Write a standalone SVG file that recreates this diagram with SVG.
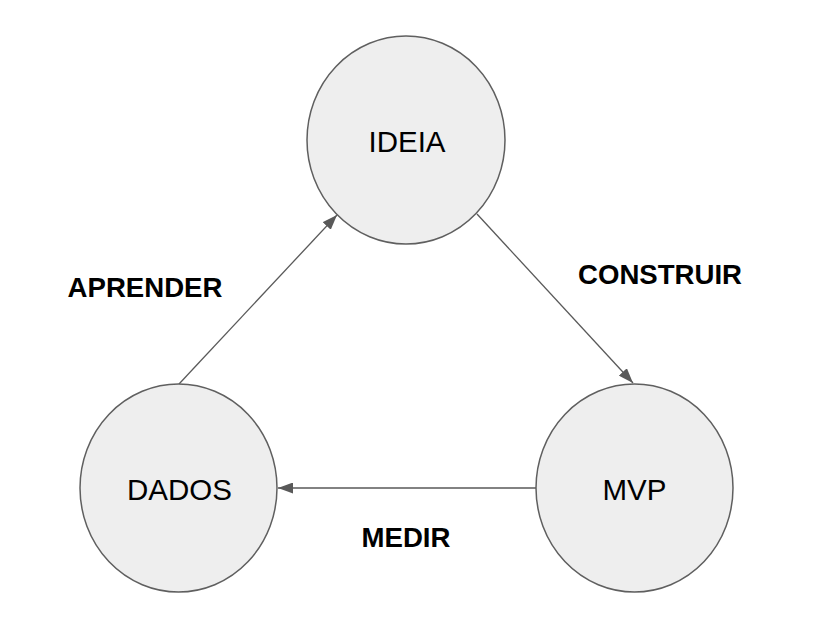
<svg xmlns="http://www.w3.org/2000/svg" width="816" height="628" viewBox="0 0 816 628">
<defs>
<style>
.node{fill:#eeeeee;stroke:#5f5f5f;stroke-width:1.5}
.nt{font-family:"Liberation Sans",Arial,sans-serif;font-size:29.5px;fill:#000;text-anchor:middle}
.lbl{font-family:"Liberation Sans",Arial,sans-serif;font-size:27.6px;font-weight:bold;fill:#000;text-anchor:middle}
.edge{stroke:#595959;stroke-width:1.3;fill:none;marker-end:url(#arr)}
</style>
<marker id="arr" markerUnits="userSpaceOnUse" markerWidth="15" markerHeight="11" refX="15" refY="5.5" orient="auto">
<path d="M0,0 L15,5.5 L0,11 z" fill="#595959"/>
</marker>
</defs>
<rect width="816" height="628" fill="#ffffff"/>
<g id="connectors">
<line class="edge" x1="477" y1="214" x2="633" y2="383"/>
<line class="edge" x1="536" y1="488" x2="278" y2="488"/>
<line class="edge" x1="179" y1="384" x2="337" y2="215"/>
</g>
<g id="node-ideia">
<ellipse class="node" cx="406" cy="140" rx="99" ry="104"/>
<text class="nt" x="407" y="152">IDEIA</text>
</g>
<g id="node-mvp">
<ellipse class="node" cx="634.5" cy="488" rx="98.5" ry="104"/>
<text class="nt" x="634.5" y="500">MVP</text>
</g>
<g id="node-dados">
<ellipse class="node" cx="178.5" cy="488" rx="98.5" ry="104"/>
<text class="nt" x="179.5" y="500">DADOS</text>
</g>
<g id="labels">
<text class="lbl" x="145" y="297">APRENDER</text>
<text class="lbl" x="660" y="284">CONSTRUIR</text>
<text class="lbl" x="406" y="547">MEDIR</text>
</g>
</svg>
